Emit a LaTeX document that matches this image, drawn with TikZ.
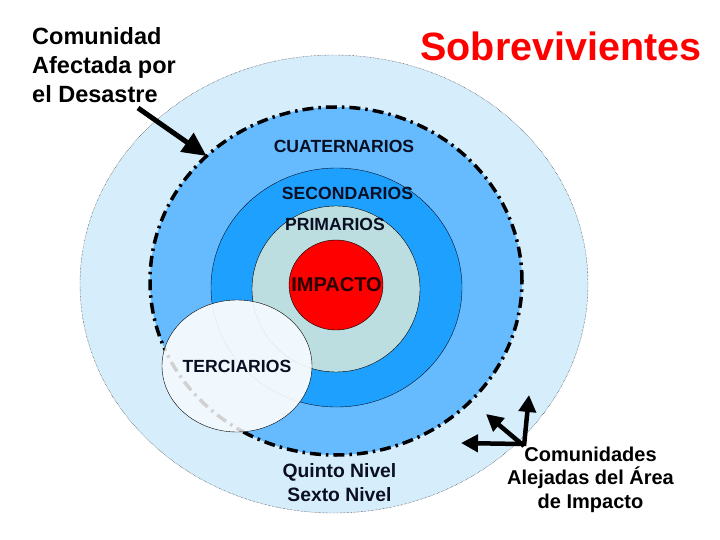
\documentclass[tikz,border=0pt]{standalone}
\usepackage{fontspec}
\setmainfont{Liberation Sans}
\usepackage{tikz}
\usetikzlibrary{arrows.meta, positioning, shapes.geometric}
\usepackage{xcolor}
\definecolor{afectblue}{RGB}{214,237,252}
\definecolor{cuatblue}{RGB}{102,187,255}
\definecolor{secblue}{RGB}{30,160,255}
\definecolor{primgrey}{RGB}{188,222,224}
\definecolor{terwhite}{RGB}{240,248,254}
\definecolor{textnavy}{RGB}{10,15,35}

\begin{document}
\begin{tikzpicture}[x=1pt, y=-1pt,
    zone/.style={ellipse, inner sep=0pt, outer sep=0pt},
    lbl/.style={font=\bfseries\fontsize{17.6}{21}\selectfont, text=textnavy, inner sep=0pt},
    ringline/.style={line width=3.5pt, dash pattern=on 11pt off 5pt on 2.5pt off 5pt},
    bigarrow/.style={line width=5pt, -{Triangle[length=24pt, width=22pt]}},
    smallarrow/.style={line width=4.5pt, -{Triangle[length=17pt, width=17pt]}}]
    \useasboundingbox (0,0) rectangle (720,540);

    % --- nested zones ---
    \node[zone, draw, densely dotted, thin, fill=afectblue, minimum width=508pt, minimum height=458pt] (afect) at (334,284) {};
    \node[zone, fill=cuatblue, draw, ringline, minimum width=372pt, minimum height=348pt] (cuat) at (336,281) {};
    \node[zone, draw=textnavy, thin, fill=secblue, minimum width=251pt, minimum height=239pt] (sec) at (336.5,287.5) {};
    \node[zone, draw, thin, fill=primgrey, minimum width=168pt, minimum height=166pt] (prim) at (336,289) {};
    \node[zone, draw, thin, fill=red, minimum width=94pt, minimum height=90pt] (imp) at (336,285) {};
    % Terciarios lies over the rings, which show faintly through it
    \node[zone, fill=terwhite, minimum width=150pt, minimum height=132pt] (ter) at (237,366) {};
    \begin{scope}
        \clip (237,366) ellipse [x radius=75, y radius=66];
        \draw[black!18, ringline] (336,281) ellipse [x radius=186, y radius=174];
        \draw[black!10, thin] (336.5,287.5) ellipse [x radius=125.5, y radius=119.5];
        \draw[black!10, thin] (336,289) ellipse [x radius=84, y radius=83];
    \end{scope}
    \node[zone, draw, thin, minimum width=150pt, minimum height=132pt] (terborde) at (ter) {};

    % --- labels ---
    \node[lbl] (cuattxt) at (344,146) {CUATERNARIOS};
    \node[lbl] (sectxt) at (347.5,193.5) {SECONDARIOS};
    \node[lbl] (primtxt) at (335,224.5) {PRIMARIOS};
    \node[lbl, font=\bfseries\fontsize{20}{24}\selectfont, text=black!85!red] (imptxt) at (336.5,285) {IMPACTO};
    \node[lbl] (tertxt) at (237,366.5) {TERCIARIOS};
    \node[lbl, font=\bfseries\fontsize{19.3}{24}\selectfont, align=center] (niveles) at (339.5,483) {Quinto Nivel\\Sexto Nivel};

    \node[font=\bfseries\fontsize{23.5}{29}\selectfont, align=left, inner sep=0pt, anchor=west] (afecttxt) at (32,65) {Comunidad\\Afectada por\\el Desastre};
    \node[font=\bfseries\fontsize{39.5}{46}\selectfont, text=red, inner sep=0pt] (sobre) at (561,46) {Sobrevivientes};
    \node[font=\bfseries\fontsize{20}{23.5}\selectfont, align=center, inner sep=0pt] (lejostxt) at (590.5,479.5) {Comunidades\\Alejadas del Área\\de Impacto};

    % --- arrows ---
    \coordinate (afectTail) at (138,108);
    \coordinate (lejos) at (524,446);
    \coordinate (lejosUp) at (529,395);
    \coordinate (lejosDiag) at (486,414);
    \coordinate (lejosLeft) at (461,443);
    \draw[bigarrow] (afectTail) -- (cuat.136);
    \draw[smallarrow] (lejos) -- (lejosUp);
    \draw[smallarrow] (lejos) -- (lejosDiag);
    \draw[smallarrow] ([xshift=-4pt, yshift=2pt]lejos) -- (lejosLeft);
\end{tikzpicture}
\end{document}
